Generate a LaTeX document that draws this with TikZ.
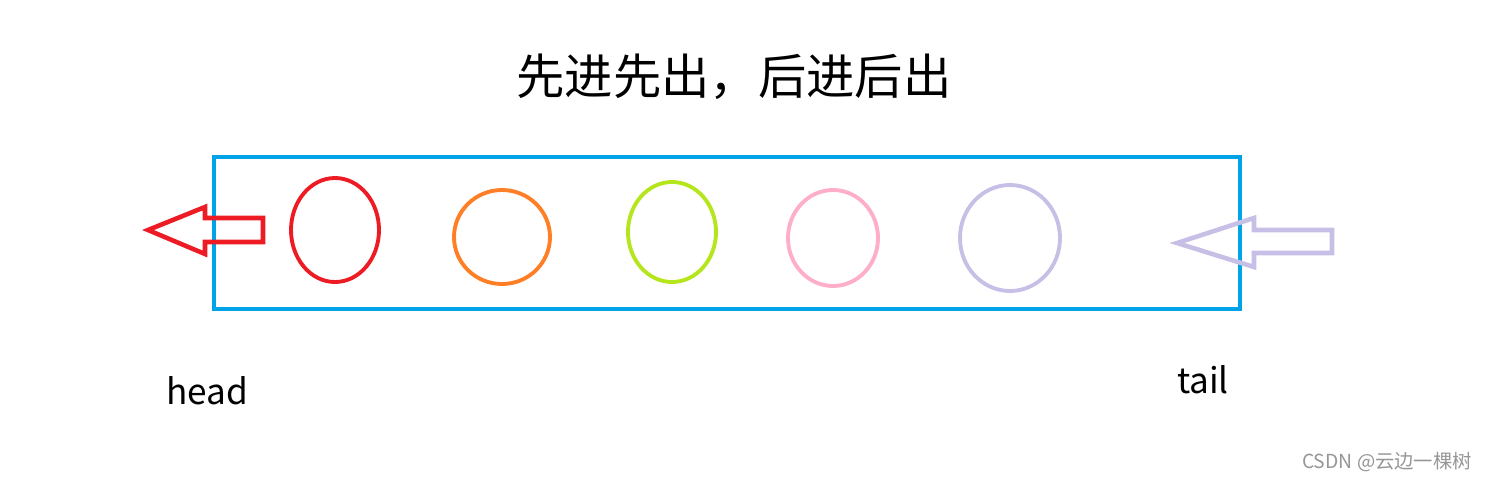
\documentclass[tikz,border=0pt]{standalone}
\usepackage{fontspec}
\setmainfont{Noto Sans CJK SC}
\usetikzlibrary{shapes.geometric}
\definecolor{qblue}{RGB}{0,162,232}
\definecolor{qred}{RGB}{237,28,36}
\definecolor{qorange}{RGB}{255,127,39}
\definecolor{qgreen}{RGB}{181,230,29}
\definecolor{qpink}{RGB}{255,174,201}
\definecolor{qlav}{RGB}{200,191,231}
\definecolor{qgray}{RGB}{150,150,150}

\begin{document}
\begin{tikzpicture}[x=0.02cm,y=-0.02cm,line join=miter,line width=2.2pt]
			\useasboundingbox (0,0) rectangle (1488,481);
			\node (title) at (734,77) {\fontsize{27.5pt}{33pt}\selectfont 先进先出，后进后出};
			\draw[qblue] (214,157) rectangle (1240,309);
			\foreach \n/\c/\x/\y/\w/\h in {a/qred/335/230/88/104,b/qorange/502/237/96/94,c/qgreen/672/232/88/100,d/qpink/833/238/90/96,e/qlav/1010/238/100/106}{\node[draw=\c,ellipse,inner sep=0pt,minimum width=\w*0.02cm,minimum height=\h*0.02cm] (\n) at (\x,\y) {};}
			% out arrow at the head, in arrow at the tail
			\draw[qred,line width=2.6pt] (148,230)--(205,207)--(205,218)--(263,218)--(263,242)--(205,242)--(205,254)--cycle;
			\draw[qlav,line width=2.6pt] (1177,243)--(1254,218)--(1254,230)--(1332,230)--(1332,253)--(1254,253)--(1254,267)--cycle;
			\node (head) at (207,391) {\fontsize{20pt}{24pt}\selectfont head};
			\node (tail) at (1203,380) {\fontsize{20pt}{24pt}\selectfont tail};
			\node[text=qgray] (mark) at (1387,462) {\fontsize{11pt}{13pt}\selectfont CSDN @云边一棵树};
		\end{tikzpicture}
\end{document}
